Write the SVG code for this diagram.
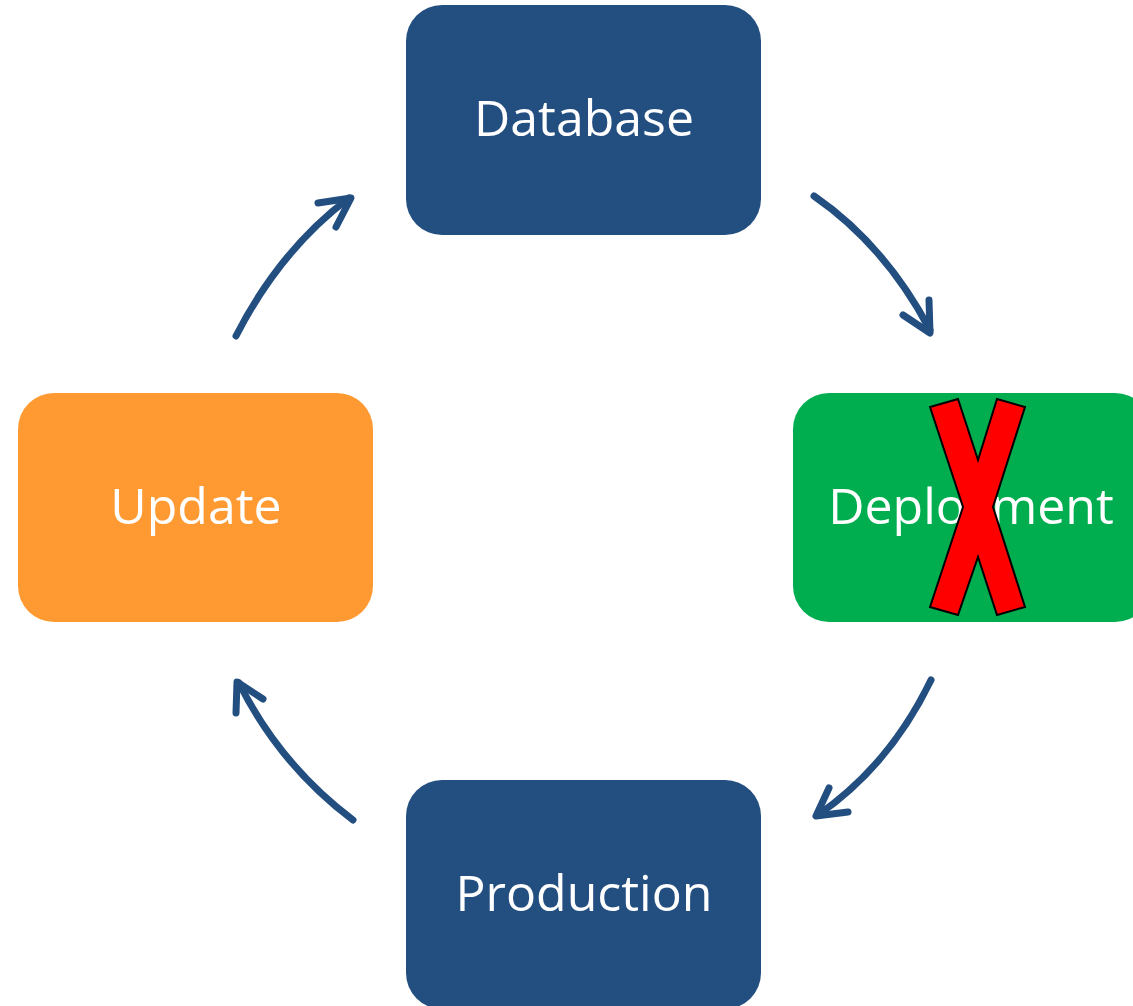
<svg xmlns="http://www.w3.org/2000/svg" width="1133" height="1006" viewBox="0 0 1133 1006">
<style>
.lbl{font-family:"Open Sans","Noto Sans",sans-serif;font-size:50px;fill:#fff;text-anchor:middle}
.conn{fill:none;stroke:#234E80;stroke-width:7;stroke-linecap:round;stroke-linejoin:round}
</style>
<rect width="1133" height="1006" fill="#fff"/>
<g id="database"><rect x="406" y="5" width="355" height="230" rx="36" fill="#234E80"/><text class="lbl" x="584" y="136">Database</text></g>
<g id="update"><rect x="18" y="393" width="355" height="229" rx="36" fill="#FF9A33"/><text class="lbl" x="196" y="524">Update</text></g>
<g id="deployment"><rect x="793" y="393" width="358" height="229" rx="36" fill="#00AE4F"/><text class="lbl" x="971" y="524">Deployment</text>
<polygon points="930,407 958,399 978,460 997,399 1025,407 993,507 1025,607 997,615 978,557 958,615 930,607 963,507" fill="#FF0000" stroke="#000" stroke-width="2"/></g>
<g id="production"><rect x="406" y="780" width="355" height="229" rx="36" fill="#234E80"/><text class="lbl" x="584" y="911">Production</text></g>
<g id="connectors">
<path class="conn" d="M814,196 Q885,245 930,330"/>
<path class="conn" d="M903,315 L930,333 L929,300"/>
<path class="conn" d="M931,680 Q890,765 818,815"/>
<path class="conn" d="M829,788 L816,816 L848,812"/>
<path class="conn" d="M353,820 Q280,765 239,683"/>
<path class="conn" d="M236,713 L237,682 L263,699"/>
<path class="conn" d="M236,336 Q280,250 349,198"/>
<path class="conn" d="M318,203 L351,198 L336,227"/>
</g>
</svg>
